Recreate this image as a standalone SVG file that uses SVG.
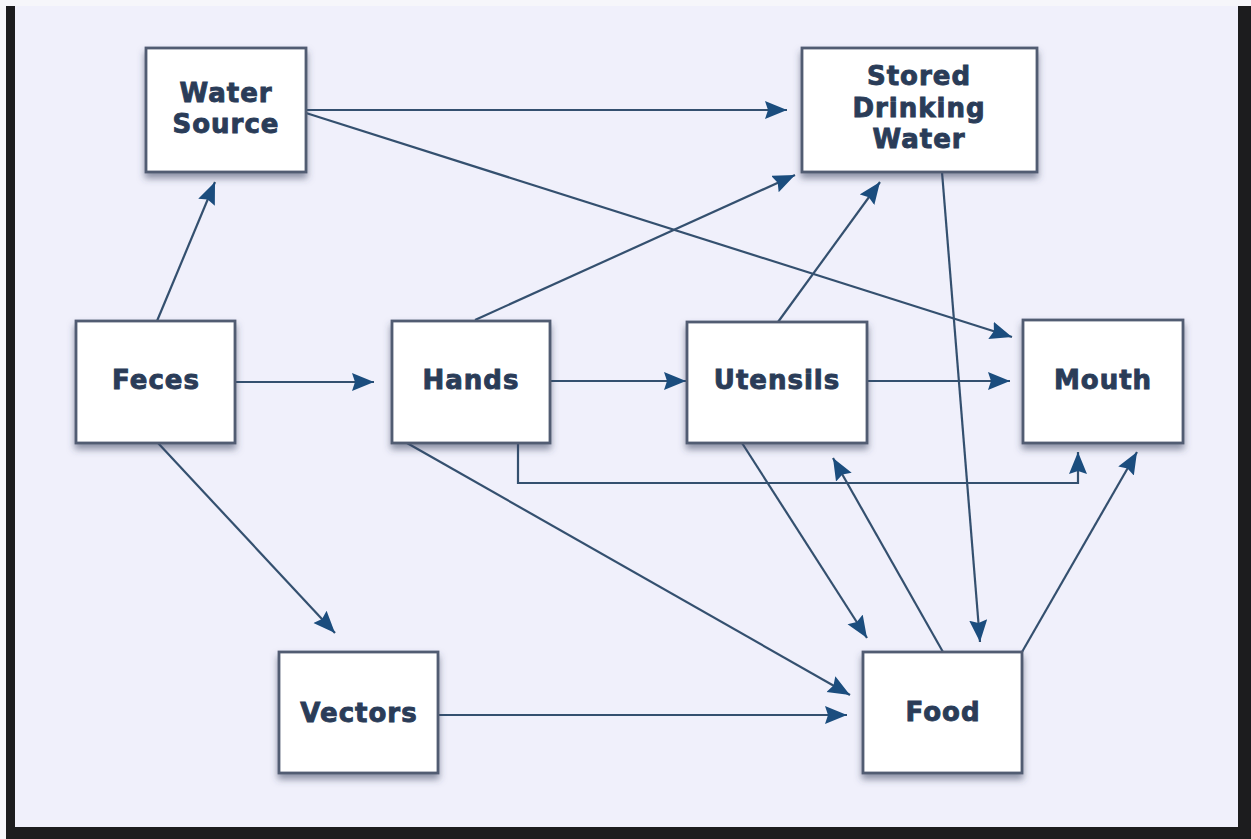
<svg xmlns="http://www.w3.org/2000/svg" width="1251" height="839" viewBox="0 0 1251 839">
<defs>
<style>
.box{fill:#ffffff;stroke:#515b72;stroke-width:2.8;filter:url(#sh)}
.lbl{font-family:"DejaVu Sans","Liberation Sans",sans-serif;font-weight:bold;font-size:26px;fill:#2a3c58;stroke:#2a3c58;stroke-width:0.9;text-anchor:middle;letter-spacing:1px}
.edge{fill:none;stroke:#34506f;stroke-width:2.2;marker-end:url(#ah)}
</style>
<filter id="sh" x="-20%" y="-20%" width="140%" height="150%">
<feDropShadow dx="0" dy="5" stdDeviation="3.5" flood-color="#3a4560" flood-opacity="0.55"/>
</filter>
<marker id="ah" markerUnits="userSpaceOnUse" markerWidth="24" markerHeight="20" refX="22" refY="9" orient="auto">
<path d="M0,0 L22,9 L0,18 L3,9 z" fill="#1b4d7e"/>
</marker>
</defs>
<rect x="0" y="0" width="1251" height="839" fill="#f6f6fa"/>
<rect x="15" y="6" width="1223" height="821" fill="#f0f0fb"/>
<rect x="6" y="6" width="9" height="833" fill="#1c1c1e"/>
<rect x="1238" y="6" width="13" height="833" fill="#1c1c1e"/>
<rect x="6" y="827" width="1245" height="12" fill="#1c1c1e"/>

<g id="connectors">
<path class="edge" d="M157,321 L215,182"/>
<path class="edge" d="M306,110 L787,110"/>
<path class="edge" d="M306,113 L1012,337"/>
<path class="edge" d="M235,382 L374,382"/>
<path class="edge" d="M550,381 L686,381"/>
<path class="edge" d="M867,381 L1010,381"/>
<path class="edge" d="M475,320 L795,175"/>
<path class="edge" d="M778,322 L880,182"/>
<path class="edge" d="M942,172 L980,642"/>
<path class="edge" d="M518,443 L518,483 L1078,483 L1078,452"/>
<path class="edge" d="M158,443 L335,633"/>
<path class="edge" d="M407,443 L850,695"/>
<path class="edge" d="M742,443 L867,638"/>
<path class="edge" d="M943,652 L833,458"/>
<path class="edge" d="M1022,652 L1137,452"/>
<path class="edge" d="M438,715 L847,715"/>
</g>

<g id="water-source">
<rect class="box" x="146" y="48" width="160" height="124"/>
<text class="lbl" x="226" y="102">Water</text>
<text class="lbl" x="226" y="133">Source</text>
</g>
<g id="stored-drinking-water">
<rect class="box" x="802" y="48" width="235" height="124"/>
<text class="lbl" x="919" y="85">Stored</text>
<text class="lbl" x="919" y="117">Drinking</text>
<text class="lbl" x="919" y="148">Water</text>
</g>
<g id="feces">
<rect class="box" x="76" y="321" width="159" height="122"/>
<text class="lbl" x="156" y="389">Feces</text>
</g>
<g id="hands">
<rect class="box" x="392" y="321" width="158" height="122"/>
<text class="lbl" x="471" y="389">Hands</text>
</g>
<g id="utensils">
<rect class="box" x="687" y="322" width="180" height="121"/>
<text class="lbl" x="777" y="389">Utensils</text>
</g>
<g id="mouth">
<rect class="box" x="1023" y="320" width="160" height="123"/>
<text class="lbl" x="1103" y="389">Mouth</text>
</g>
<g id="vectors">
<rect class="box" x="279" y="652" width="159" height="121"/>
<text class="lbl" x="359" y="722">Vectors</text>
</g>
<g id="food">
<rect class="box" x="863" y="652" width="159" height="121"/>
<text class="lbl" x="943" y="721">Food</text>
</g>
</svg>
